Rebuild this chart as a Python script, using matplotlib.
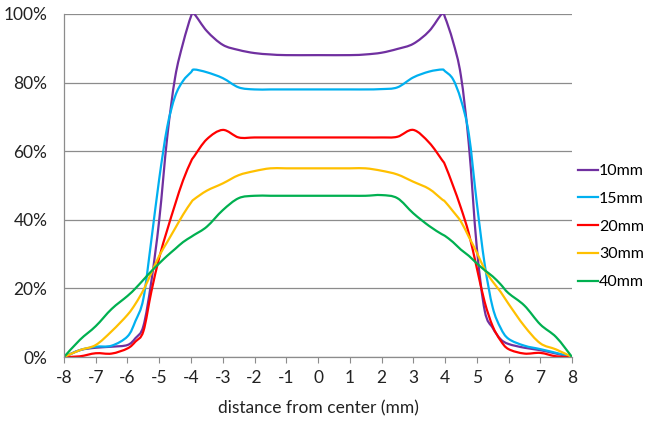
import matplotlib
matplotlib.use("Agg")
import numpy as np
import matplotlib.pyplot as plt
from matplotlib.path import Path
from matplotlib.patches import PathPatch
from matplotlib.lines import Line2D
from matplotlib.ticker import FuncFormatter

# Data (percent of max dose vs distance)
distance = [-8, -7.5, -7, -6.5, -6, -5.75, -5.5, -5.25, -5, -4.75, -4.5, -4.25,
            -4, -3.9, -3.5, -3, -2.5, -2, -1.5, -1, 0, 1, 1.5, 2, 2.5, 3, 3.5,
            3.9, 4, 4.25, 4.5, 4.75, 5, 5.25, 5.5, 5.75, 6, 6.5, 7, 7.5, 8]

d10 = [0, 2, 2.7, 3, 3.5, 5.5, 9, 22, 40, 64, 81.5, 91.5,
       99.3, 100, 95, 91, 89.5, 88.6, 88.2, 88, 88, 88, 88.2, 88.7, 89.8, 91.3, 95,
       100, 99, 92, 82, 62, 32, 13.5, 8.5, 5.2, 3.8, 2.7, 2, 1, 0]
d15 = [0, 2, 3, 3.3, 6, 10.5, 17, 34, 52, 67, 76, 80.5,
       83, 83.8, 83, 81.3, 78.6, 78, 78, 78, 78, 78, 78, 78.1, 78.6, 81.5, 83.2,
       83.8, 83.3, 81, 75, 65, 45, 27, 14.5, 8.5, 5.3, 3.3, 2.3, 1.2, 0]
d20 = [0, 0.2, 1.1, 1.0, 2.5, 4.5, 7.5, 19, 29, 37, 44.5, 51.5,
       57, 58.5, 63.5, 66.2, 64, 64, 64, 64, 64, 64, 64, 64, 64.2, 66.2, 62.5,
       57.5, 56, 50, 43.5, 36, 26, 16, 9, 4.8, 2.3, 1, 1.2, 0.2, 0]
d30 = [0, 2, 3.5, 7.5, 12.3, 15.5, 19.5, 24.5, 29.5, 33.5, 37.5, 41.5,
       45, 46, 48.5, 50.6, 53, 54.2, 55, 55, 55, 55, 55, 54.3, 53.2, 51.1, 49,
       46, 45.3, 42.5, 39.5, 35, 30.5, 25.5, 22, 19, 15.5, 9, 4, 2.2, 0]
d40 = [0, 5, 9, 14, 17.8, 20, 22.5, 25, 27.3, 29.5, 31.5, 33.5,
       35, 35.6, 38, 42.8, 46.3, 47, 47, 47, 47, 47, 47, 47.2, 46.3, 41.9, 38.2,
       35.8, 35.3, 33.5, 31.3, 29.5, 27.3, 25.3, 23.5, 21.2, 18.6, 15, 9.5, 5.8, 0]

labels = ["10mm", "15mm", "20mm", "30mm", "40mm"]
colors = ["#7030A0", "#00B0F0", "#FF0000", "#FFC000", "#00B050"]


def smooth_path(x, y):
    # Excel-style smoothed line: cubic bezier segments through every point
    p = np.column_stack([x, y]).astype(float)
    n = len(p)
    verts = [p[0]]
    codes = [Path.MOVETO]
    for i in range(n - 1):
        p0 = p[i - 1] if i > 0 else p[i]
        p3 = p[i + 2] if i + 2 < n else p[i + 1]
        c1 = p[i] + (p[i + 1] - p0) / 6.0
        c2 = p[i + 1] - (p3 - p[i]) / 6.0
        verts += [c1, c2, p[i + 1]]
        codes += [Path.CURVE4] * 3
    return Path(verts, codes)


plt.rcParams["font.family"] = ["Lato", "DejaVu Sans"]
plt.rcParams["axes.unicode_minus"] = False
fs = 12.5
txt = "#222222"
gray = "#8c8c8c"

fig = plt.figure(figsize=(6.53, 4.23), dpi=100)
ax = fig.add_axes([0.098, 0.156, 0.778, 0.811])

handles = []
for vals, col, name in zip([d10, d15, d20, d30, d40], colors, labels):
    patch = PathPatch(smooth_path(distance, vals), facecolor="none",
                      edgecolor=col, lw=1.6, capstyle="round",
                      joinstyle="round")
    ax.add_patch(patch)
    handles.append(Line2D([], [], color=col, lw=1.6, label=name))

ax.set_xlim(-8, 8)
ax.set_ylim(0, 100)
ax.set_xticks(range(-8, 9))
ax.set_yticks(range(0, 101, 20))
ax.yaxis.set_major_formatter(FuncFormatter(lambda v, p: "%d%%" % v))

ax.grid(axis="y", color=gray, lw=0.9)
ax.set_axisbelow(True)
for s in ["top", "right"]:
    ax.spines[s].set_visible(False)
for s in ["left", "bottom"]:
    ax.spines[s].set_color(gray)
    ax.spines[s].set_linewidth(0.9)
ax.tick_params(axis="x", direction="out", length=4, color=gray,
               labelsize=fs, pad=5, labelcolor=txt)
ax.tick_params(axis="y", length=0, labelsize=fs, pad=12, labelcolor=txt)

ax.set_xlabel("distance from center (mm)", fontsize=fs, color=txt,
              labelpad=11)

ax.legend(handles=handles, loc="center left", bbox_to_anchor=(1.0, 0.38),
          frameon=False, fontsize=11.5, handlelength=1.25, handletextpad=0.1,
          labelspacing=0.85, borderaxespad=0.15, borderpad=0.2)

fig.savefig("out.png", dpi=100)
